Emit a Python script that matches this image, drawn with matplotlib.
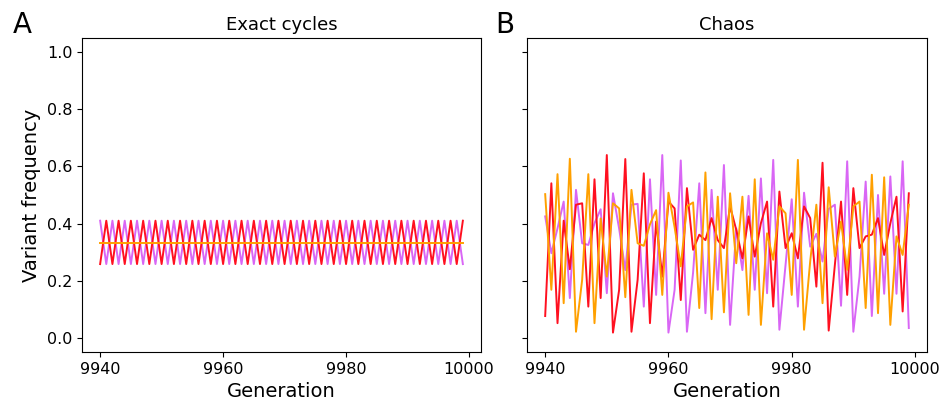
import numpy as np
import matplotlib
matplotlib.use("Agg")
import matplotlib.pyplot as plt

# generations shown in both panels
generations = np.arange(9940, 10000)

# panel A: exact 2-cycle, one variant fixed at 1/3
cycle_low = 0.258
cycle_high = 0.41
cycle_mid = 0.333

# panel B: chaotic dynamics
chaos_red = [0.076, 0.541, 0.051, 0.410, 0.240, 0.466, 0.471, 0.109, 0.555, 0.139,
             0.640, 0.018, 0.168, 0.626, 0.021, 0.203, 0.576, 0.051, 0.407, 0.214,
             0.477, 0.453, 0.132, 0.524, 0.308, 0.361, 0.342, 0.419, 0.342, 0.314,
             0.460, 0.378, 0.278, 0.425, 0.284, 0.401, 0.477, 0.109, 0.512, 0.314,
             0.366, 0.278, 0.460, 0.419, 0.179, 0.613, 0.025, 0.255, 0.477, 0.150,
             0.524, 0.314, 0.355, 0.361, 0.419, 0.290, 0.401, 0.494, 0.092, 0.506]
chaos_orange = [0.503, 0.168, 0.573, 0.121, 0.627, 0.021, 0.203, 0.573, 0.051, 0.418,
                0.214, 0.471, 0.453, 0.142, 0.518, 0.331, 0.322, 0.397, 0.447, 0.150,
                0.508, 0.387, 0.250, 0.460, 0.474, 0.104, 0.579, 0.065, 0.494, 0.089,
                0.506, 0.261, 0.494, 0.080, 0.555, 0.045, 0.366, 0.273, 0.460, 0.436,
                0.150, 0.623, 0.028, 0.268, 0.466, 0.121, 0.527, 0.284, 0.407, 0.238,
                0.460, 0.477, 0.104, 0.571, 0.086, 0.562, 0.045, 0.355, 0.290, 0.466]
chaos_violet = [0.425, 0.296, 0.383, 0.477, 0.139, 0.518, 0.331, 0.325, 0.401, 0.450,
                0.156, 0.506, 0.382, 0.237, 0.466, 0.469, 0.109, 0.555, 0.150, 0.640,
                0.018, 0.168, 0.621, 0.021, 0.229, 0.541, 0.086, 0.518, 0.168, 0.605,
                0.045, 0.383, 0.237, 0.497, 0.168, 0.558, 0.156, 0.623, 0.028, 0.255,
                0.485, 0.109, 0.508, 0.319, 0.364, 0.267, 0.451, 0.466, 0.112, 0.618,
                0.021, 0.214, 0.547, 0.076, 0.500, 0.154, 0.565, 0.154, 0.618, 0.034]

RED = "#ff1020"
ORANGE = "#ffa000"
VIOLET = "#d966f5"
LW = 1.4

fig = plt.figure(figsize=(9.45, 4.08), dpi=100)
ax_a = fig.add_axes([82 / 945, 1 - 352 / 408, 399 / 945, 314 / 408])
ax_b = fig.add_axes([527 / 945, 1 - 352 / 408, 400 / 945, 314 / 408], sharey=ax_a)

red_a = np.where(np.arange(len(generations)) % 2 == 0, cycle_low, cycle_high)
violet_a = np.where(np.arange(len(generations)) % 2 == 0, cycle_high, cycle_low)
ax_a.plot(generations, violet_a, color=VIOLET, lw=LW)
ax_a.plot(generations, red_a, color=RED, lw=LW)
ax_a.plot(generations, np.full(len(generations), cycle_mid), color=ORANGE, lw=LW)

ax_b.plot(generations, chaos_violet, color=VIOLET, lw=LW)
ax_b.plot(generations, chaos_red, color=RED, lw=LW)
ax_b.plot(generations, chaos_orange, color=ORANGE, lw=LW)

ax_a.set_ylim(-0.05, 1.05)
ax_a.set_yticks([0.0, 0.2, 0.4, 0.6, 0.8, 1.0])
plt.setp(ax_b.get_yticklabels(), visible=False)

for ax, title in [(ax_a, "Exact cycles"), (ax_b, "Chaos")]:
    ax.set_title(title, fontsize=13)
    ax.set_xlabel("Generation", fontsize=14)
    ax.set_xticks([9940, 9960, 9980, 10000])
    ax.tick_params(labelsize=11.5)

ax_a.set_ylabel("Variant frequency", fontsize=14)

fig.text(22 / 945, 1 - 25 / 408, "A", fontsize=20, ha="center", va="center")
fig.text(505 / 945, 1 - 25 / 408, "B", fontsize=20, ha="center", va="center")

fig.savefig("out.png", dpi=100)
